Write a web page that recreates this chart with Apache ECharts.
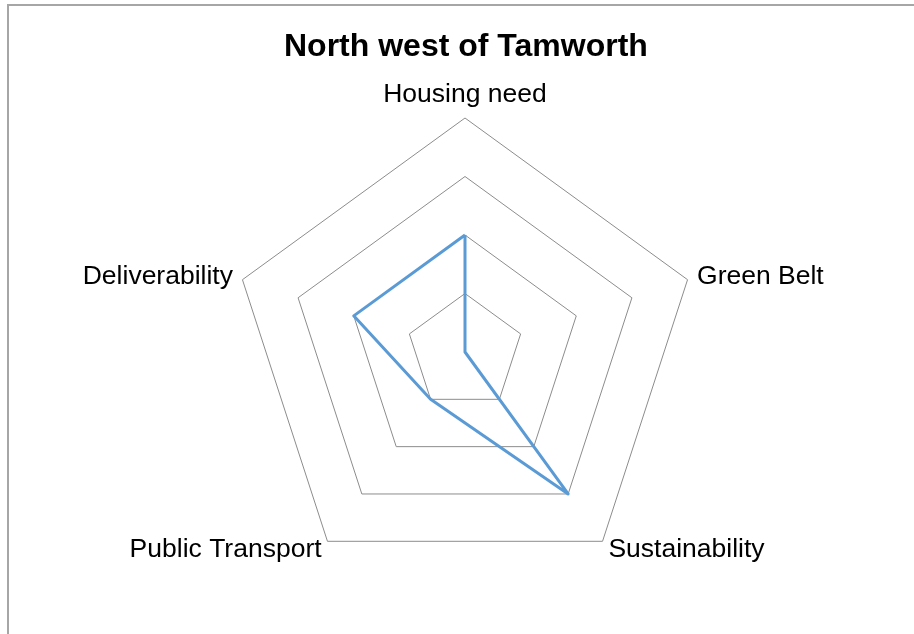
<!DOCTYPE html>
<html>
<head>
<meta charset="utf-8">
<script src="https://cdn.jsdelivr.net/npm/echarts@6/dist/echarts.min.js"></script>
<style>
  html, body { margin: 0; padding: 0; background: #fff; }
  #frame {
    position: absolute; left: 7px; top: 4px; width: 920px; height: 640px;
    border-left: 2px solid #a6a6a6; border-top: 2px solid #a6a6a6;
  }
  #chart { position: absolute; left: 0; top: 0; width: 914px; height: 634px; }
</style>
</head>
<body>
<div id="frame"></div>
<div id="chart"></div>
<script>
var chartTitle = 'North west of Tamworth'
// clockwise from the top, as in the original chart
var indicators = ['Housing need', 'Green Belt', 'Sustainability', 'Public Transport', 'Deliverability']
var scores = [2, 0, 3, 1, 2]
var maxScore = 4

// echarts radar runs counter-clockwise, so keep the first axis and reverse the rest
function ccw(arr) {
  return [arr[0]].concat(arr.slice(1).reverse())
}

var myChart = echarts.init(document.getElementById('chart'))
var option = {
  animation: false,
  title: {
    text: chartTitle,
    left: 279,
    top: 26,
    textStyle: {
      fontFamily: 'Liberation Sans, Arial',
      fontSize: 32,
      fontWeight: 'bold',
      color: '#000'
    }
  },
  radar: {
    center: [465, 352],
    radius: 234,
    startAngle: 90,
    splitNumber: 4,
    shape: 'polygon',
    indicator: ccw(indicators).map(function (name) {
      return { name: name, min: 0, max: maxScore }
    }),
    nameGap: 10,
    axisName: {
      color: '#000',
      fontFamily: 'Liberation Sans, Arial',
      fontSize: 26.5
    },
    axisLine: { show: false },
    axisTick: { show: false },
    axisLabel: { show: false },
    splitArea: { show: false },
    splitLine: {
      lineStyle: { color: '#8c8c8c', width: 1 }
    }
  },
  series: [
    {
      type: 'radar',
      symbol: 'none',
      lineStyle: { color: '#5b9bd5', width: 3 },
      data: [
        { value: ccw(scores), name: chartTitle }
      ]
    }
  ]
}
myChart.setOption(option)
</script>
</body>
</html>
